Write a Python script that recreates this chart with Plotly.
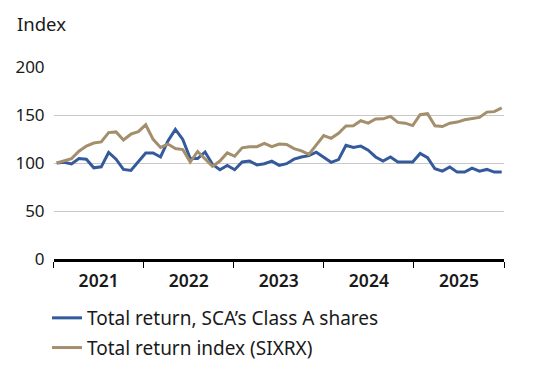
import plotly.graph_objects as go

# Observation index (roughly monthly, base = 100)
periods = list(range(61))

sca_class_a = [100, 100.7, 99, 104.6, 104, 95, 96, 111, 104, 93.3, 92.3, 101.4,
               110.5, 110.5, 106.3, 123, 135, 124.6, 104.6, 104.6, 111.5, 98.6, 93, 97.5,
               93, 101, 102, 98, 99.3, 102, 97.5, 99.3, 104, 106.3, 107.7, 111.3,
               106.3, 100.7, 103.5, 118.5, 116.2, 117.6, 113.4, 106.3, 102, 106.3, 101, 101,
               101, 110, 105.6, 94, 91.5, 95.8, 90.5, 90.5, 94.7, 91.5, 93.3, 90.5, 90.5]

sixrx = [100, 102, 104.6, 112.3, 117.6, 120.8, 122, 131.7, 132.4, 124, 130, 132.7,
         139.8, 124.6, 116.2, 119.7, 115, 114, 101, 112, 104.6, 96.5, 102, 110.6,
         107, 115.8, 117, 117, 120.4, 117, 119.7, 119.4, 115, 112.7, 109, 118.7,
         128.5, 125.7, 131, 138.5, 138.7, 144, 141.5, 145.8, 146, 148.6, 142.3, 141.5,
         139, 150.3, 151.4, 138.7, 138, 141.5, 142.6, 145, 146.5, 147.5, 153, 153.5, 157.4]

years = ["2021", "2022", "2023", "2024", "2025"]
y_ticks = [0, 50, 100, 150, 200]

x_lo, x_hi = -0.42, 60.31
yw = (x_hi - x_lo) / len(years)
boundaries = [x_lo + k * yw for k in range(len(years) + 1)]
mids = [x_lo + (k + 0.5) * yw for k in range(len(years))]

W, H = 550, 369
FONT = "Noto Sans"
TXT = "#1a1a1a"

fig = go.Figure()
fig.add_trace(go.Scatter(x=periods, y=sca_class_a, mode="lines",
                         name="Total return, SCA\u2019s Class A shares", legendgroup="a",
                         line=dict(color="#345a9c", width=3)))
fig.add_trace(go.Scatter(x=periods, y=sixrx, mode="lines",
                         name="Total return index (SIXRX)", legendgroup="b",
                         line=dict(color="#a48f6d", width=3)))

fig.update_layout(
    width=W, height=H,
    margin=dict(l=0, r=0, t=0, b=0, pad=0),
    paper_bgcolor="white", plot_bgcolor="white",
    font=dict(family=FONT, size=16, color=TXT),
    showlegend=True,
    legend=dict(x=47 / W, y=1 - 299 / H, xanchor="left", yanchor="top",
                font=dict(family=FONT, size=19, color=TXT),
                traceorder="grouped", tracegroupgap=2, itemwidth=30,
                bgcolor="rgba(0,0,0,0)"),
    xaxis=dict(domain=[53.6 / W, 504 / W], range=[x_lo, x_hi], automargin=False,
               showgrid=False, zeroline=False,
               tickmode="array", tickvals=mids, ticktext=years, ticks="",
               ticklabelstandoff=4,
               tickfont=dict(family=FONT, size=17.5, color=TXT, weight=600),
               showline=True, linecolor="black", linewidth=2.5,
               minor=dict(tickmode="array", tickvals=boundaries, ticks="outside",
                          ticklen=6, tickwidth=1.3, tickcolor="black", showgrid=False)),
    yaxis=dict(domain=[1 - 259 / H, 1 - 67 / H], range=[0, 200], automargin=False,
               tickmode="array", tickvals=y_ticks,
               showgrid=True, gridcolor="#c8c8c8", gridwidth=1.2, zeroline=False,
               ticks="", ticklabelstandoff=8,
               tickfont=dict(family=FONT, size=17, color=TXT)),
    annotations=[dict(text="Index", xref="paper", yref="paper", x=15 / W, y=1 - 23 / H,
                      xanchor="left", yanchor="middle", showarrow=False,
                      font=dict(family=FONT, size=18.5, color=TXT))],
)

fig.write_html("out.html", config={"displayModeBar": False},
               post_script="document.body.style.margin='0';")
